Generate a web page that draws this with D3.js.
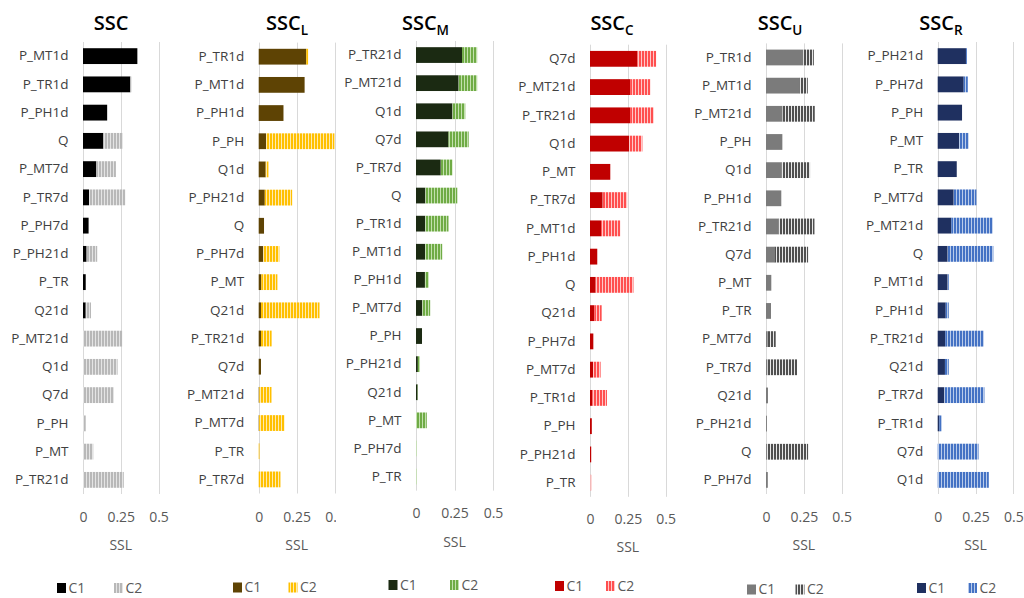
<!DOCTYPE html>
<html>
<head>
<meta charset="utf-8">
<script src="https://cdn.jsdelivr.net/npm/d3@7"></script>
<style>
  body { margin: 0; background: #fff; }
  svg text { font-family: "Open Sans", "Noto Sans", sans-serif; }
</style>
</head>
<body>
<svg id="chart" width="1024" height="598"></svg>
<script>
// Shared axis values and labels
const tickValues = [0, 0.25, 0.5];
const tickLabels = ["0", "0.25", "0.5"];
const axisTitle = "SSL";
const seriesNames = ["C1", "C2"];

// SSC
const catsSSC = ["P_MT1d","P_TR1d","P_PH1d","Q","P_MT7d","P_TR7d","P_PH7d","P_PH21d","P_TR","Q21d","P_MT21d","Q1d","Q7d","P_PH","P_MT","P_TR21d"];
const c1SSC   = [0.360,0.313,0.160,0.134,0.088,0.040,0.037,0.024,0.018,0.018,0,0,0,0,0,0];
const c2SSC   = [0,0.010,0,0.130,0.130,0.240,0,0.070,0,0.035,0.260,0.229,0.205,0.018,0.068,0.270];

// SSC_L
const catsL = ["P_TR1d","P_MT1d","P_PH1d","P_PH","Q1d","P_PH21d","Q","P_PH7d","P_MT","Q21d","P_TR21d","Q7d","P_MT21d","P_MT7d","P_TR","P_TR7d"];
const c1L   = [0.313,0.302,0.163,0.048,0.046,0.040,0.035,0.030,0.017,0.015,0.015,0.015,0.004,0.003,0,0];
const c2L   = [0.013,0,0,0.450,0.018,0.180,0,0.106,0.106,0.385,0.070,0,0.080,0.167,0.005,0.143];

// SSC_M
const catsM = ["P_TR21d","P_MT21d","Q1d","Q7d","P_TR7d","Q","P_TR1d","P_MT1d","P_PH1d","P_MT7d","P_PH","P_PH21d","Q21d","P_MT","P_PH7d","P_TR"];
const c1M   = [0.299,0.277,0.237,0.211,0.161,0.061,0.060,0.059,0.058,0.041,0.039,0.012,0.010,0,0,0];
const c2M   = [0.098,0.120,0.083,0.131,0.076,0.207,0.151,0.111,0.025,0.051,0,0.014,0.002,0.070,0.005,0.005];

// SSC_C
const catsC = ["Q7d","P_MT21d","P_TR21d","Q1d","P_MT","P_TR7d","P_MT1d","P_PH1d","Q","Q21d","P_PH7d","P_MT7d","P_TR1d","P_PH","P_PH21d","P_TR"];
const c1C   = [0.313,0.265,0.265,0.258,0.134,0.084,0.073,0.048,0.037,0.028,0.022,0.020,0.015,0.012,0.008,0.002];
const c2C   = [0.124,0.134,0.156,0.088,0,0.161,0.127,0,0.250,0.049,0,0.050,0.097,0,0,0.006];

// SSC_U
const catsU = ["P_TR1d","P_MT1d","P_MT21d","P_PH","Q1d","P_PH1d","P_TR21d","Q7d","P_MT","P_TR","P_MT7d","P_TR7d","Q21d","P_PH21d","Q","P_PH7d"];
const c1U   = [0.247,0.220,0.110,0.108,0.104,0.101,0.084,0.055,0.035,0.033,0.012,0.010,0.013,0.006,0.005,0.012];
const c2U   = [0.069,0.056,0.212,0,0.187,0,0.236,0.223,0,0,0.052,0.195,0,0,0.273,0];

// SSC_R
const catsR = ["P_PH21d","P_PH7d","P_PH","P_MT","P_TR","P_MT7d","P_MT21d","Q","P_MT1d","P_PH1d","P_TR21d","Q21d","P_TR7d","P_TR1d","Q7d","Q1d"];
const c1R   = [0.187,0.172,0.161,0.141,0.126,0.106,0.090,0.066,0.066,0.053,0.050,0.048,0.044,0.011,0,0];
const c2R   = [0.006,0.027,0,0.064,0,0.150,0.274,0.302,0.007,0.020,0.255,0.025,0.265,0.017,0.270,0.338];

const panels = [
  { id: "ssc", title: "SSC", sub: "",  cats: catsSSC, c1: c1SSC, c2: c2SSC,
    solid: "#000000", stripe: "#b8b8b8", stripeBg: "#e4e4e4",
    left: 0,   x0: 83,    x5: 158.5,  top: 42,   bottom: 494,   titleX: 111,
    tickY: 517, titleY2: 545, legY: 588, leg1: 57, leg2: 114 },
  { id: "l", title: "SSC", sub: "L", cats: catsL, c1: c1L, c2: c2L,
    solid: "#5e4304", stripe: "#ffc000", stripeBg: "#ffeab0",
    left: 175, x0: 258.7, x5: 334.7,  top: 42.6, bottom: 493.5, titleX: 287,
    tickY: 517, titleY2: 545, legY: 587.5, leg1: 233, leg2: 288.5 },
  { id: "m", title: "SSC", sub: "M", cats: catsM, c1: c1M, c2: c2M,
    solid: "#1b2a12", stripe: "#6fab45", stripeBg: "#c2e0ad",
    left: 336, x0: 416,   x5: 493,    top: 41,   bottom: 490.6, titleX: 425.5,
    tickY: 513, titleY2: 542, legY: 585, leg1: 388.5, leg2: 450 },
  { id: "c", title: "SSC", sub: "C", cats: catsC, c1: c1C, c2: c2C,
    solid: "#c00000", stripe: "#ff4f4f", stripeBg: "#ffc8c8",
    left: 505, x0: 590,   x5: 665.7,  top: 44.7, bottom: 496.8, titleX: 612,
    tickY: 519.5, titleY2: 547, legY: 586, leg1: 555, leg2: 606 },
  { id: "u", title: "SSC", sub: "U", cats: catsU, c1: c1U, c2: c2U,
    solid: "#7b7b7b", stripe: "#505050", stripeBg: "#e8e8e8",
    left: 680, x0: 766,   x5: 841.7,  top: 43.4, bottom: 494,   titleX: 780,
    tickY: 517, titleY2: 545, legY: 589.5, leg1: 747, leg2: 795.5 },
  { id: "r", title: "SSC", sub: "R", cats: catsR, c1: c1R, c2: c2R,
    solid: "#1f3060", stripe: "#4472c4", stripeBg: "#b9cbea",
    left: 853, x0: 937.7, x5: 1013.3, top: 42,   bottom: 494,   titleX: 941,
    tickY: 517, titleY2: 545, legY: 588, leg1: 917, leg2: 968 }
];

const svg = d3.select("#chart");
const defs = svg.append("defs");

// vertical stripe fill for the C2 series of each panel
panels.forEach(p => {
  const pat = defs.append("pattern")
    .attr("id", "stripe-" + p.id)
    .attr("patternUnits", "userSpaceOnUse")
    .attr("width", 3).attr("height", 6);
  pat.append("rect").attr("width", 3).attr("height", 6).attr("fill", p.stripeBg);
  pat.append("rect").attr("width", 2).attr("height", 6).attr("fill", p.stripe);
});

panels.forEach((p, i) => {
  const nextLeft = i < panels.length - 1 ? panels[i + 1].left : 1024;
  const g = svg.append("g");

  g.append("rect")
    .attr("x", p.left).attr("y", 0)
    .attr("width", nextLeft - p.left).attr("height", 598)
    .attr("fill", "#fff");

  const x = d3.scaleLinear().domain([0, 0.5]).range([p.x0, p.x5]);
  const y = d3.scaleBand().domain(p.cats).range([p.top, p.bottom])
    .paddingInner(0.44).paddingOuter(0.22);

  // gridlines
  g.append("g").selectAll("line").data(tickValues).join("line")
    .attr("x1", d => Math.round(x(d)) + 0.5).attr("x2", d => Math.round(x(d)) + 0.5)
    .attr("y1", p.top).attr("y2", p.bottom)
    .attr("stroke", "#d9d9d9").attr("stroke-width", 1);

  const rows = p.cats.map((c, k) => ({ cat: c, a: p.c1[k], b: p.c2[k] }));

  // C1 segments
  g.append("g").selectAll("rect").data(rows).join("rect")
    .attr("x", x(0))
    .attr("y", d => y(d.cat))
    .attr("width", d => x(d.a) - x(0))
    .attr("height", y.bandwidth())
    .attr("fill", p.solid);

  // C2 segments stacked after C1
  g.append("g").selectAll("rect").data(rows).join("rect")
    .attr("x", d => x(d.a))
    .attr("y", d => y(d.cat))
    .attr("width", d => x(d.a + d.b) - x(d.a))
    .attr("height", y.bandwidth())
    .attr("fill", "url(#stripe-" + p.id + ")");

  // category axis
  const yAxis = g.append("g")
    .attr("transform", `translate(${p.x0},0)`)
    .call(d3.axisLeft(y).tickSize(0).tickPadding(14.5));
  yAxis.select(".domain").remove();
  yAxis.selectAll("text")
    .attr("font-size", 13.5).attr("fill", "#404040")
    .style("font-family", '"Open Sans", sans-serif');

  // value axis
  const xAxis = g.append("g")
    .attr("transform", `translate(0,${p.tickY})`)
    .call(d3.axisBottom(x).tickValues(tickValues).tickSize(0).tickPadding(0)
      .tickFormat((d, k) => tickLabels[k]));
  xAxis.select(".domain").remove();
  xAxis.selectAll("text")
    .attr("y", 0).attr("dy", "0.35em")
    .attr("font-size", 14).attr("fill", "#595959")
    .style("font-family", '"Open Sans", sans-serif');

  // axis title
  g.append("text")
    .attr("x", (p.x0 + p.x5) / 2).attr("y", p.titleY2).attr("dy", "0.35em")
    .attr("text-anchor", "middle")
    .attr("font-size", 14).attr("fill", "#595959")
    .text(axisTitle);

  // panel title with subscript
  const t = g.append("text")
    .attr("x", p.titleX).attr("y", 30)
    .attr("text-anchor", "middle")
    .attr("font-size", 20).attr("font-weight", 600).attr("fill", "#000")
    .text(p.title);
  if (p.sub) {
    t.append("tspan").attr("dy", 5).attr("font-size", 13.5).text(p.sub);
  }

  // legend
  const leg = g.append("g");
  [p.leg1, p.leg2].forEach((lx, k) => {
    leg.append("rect")
      .attr("x", lx).attr("y", p.legY - 5)
      .attr("width", 9).attr("height", 10)
      .attr("fill", k === 0 ? p.solid : "url(#stripe-" + p.id + ")");
    leg.append("text")
      .attr("x", lx + 11.5).attr("y", p.legY).attr("dy", "0.35em")
      .attr("font-size", 14).attr("fill", "#595959")
      .text(seriesNames[k]);
  });
});
</script>
</body>
</html>
